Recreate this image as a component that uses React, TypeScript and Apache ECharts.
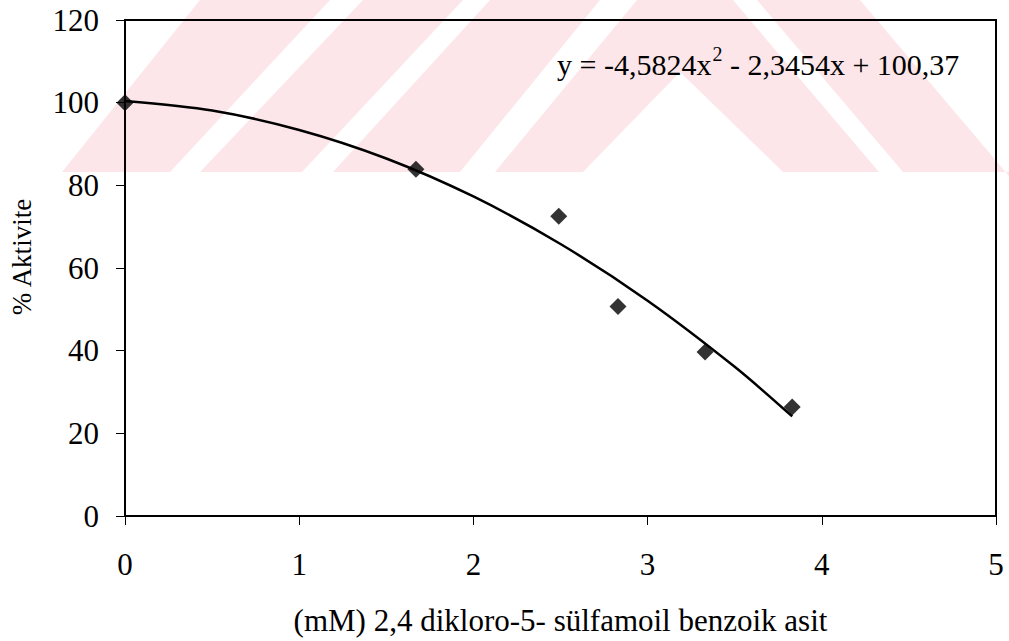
import React, { useEffect, useRef } from "react";
import * as echarts from "echarts";

// Measured data points (mM concentration vs % activity)
const concentrations = [0, 1.67, 2.49, 2.83, 3.33, 3.83];
const activity = [100, 83.9, 72.5, 50.7, 39.7, 26.4];

// Trend line
const fitX = [0, 0.5, 1, 1.5, 2, 2.5, 3, 3.5, 3.83];
const fitY = [100.4, 98.1, 93.4, 86.5, 77.3, 65.8, 52.1, 36.1, 24.1];

const xTickMin = 0;
const xTickMax = 5;
const yTickMin = 0;
const yTickMax = 120;

const xTitle = "(mM) 2,4 dikloro-5- sülfamoil benzoik asit";
const yTitle = "% Aktivite";
const equationMain = "y = -4,5824x";
const equationSup = "2";
const equationRest = " - 2,3454x + 100,37";

const FONT = "'Liberation Serif', 'Times New Roman', serif";
const WM = "#fde6ea";

// Decorative watermark band (page pixels)
const watermarkShapes: number[][][] = [
  [[62, 172], [170, 172], [330, 0], [200, 0]],
  [[200, 172], [302, 172], [463, 0], [363, 0]],
  [[333, 172], [460, 172], [600, 0], [490, 0]],
  [[495, 172], [583, 172], [680, 72], [783, 172], [879, 172], [733, 0], [637, 0]],
  [[757, 0], [860, 0], [1009, 176], [1009, 172], [903, 172]],
];

function measure(text: string, size: number): number {
  const c = document.createElement("canvas").getContext("2d");
  if (!c) return text.length * size * 0.45;
  c.font = `${size}px 'Liberation Serif'`;
  return c.measureText(text).width;
}

export default function App() {
  const ref = useRef<HTMLDivElement>(null);

  useEffect(() => {
    if (!ref.current) return;
    const chart = echarts.init(ref.current, undefined, { renderer: "svg" });

    const graphics: any[] = watermarkShapes.map((pts) => ({
      type: "polygon",
      z: -10,
      silent: true,
      shape: { points: pts },
      style: { fill: WM, stroke: "none" },
    }));

    graphics.push({
      type: "text",
      x: 22,
      y: 257,
      rotation: Math.PI / 2,
      style: {
        text: yTitle,
        fontSize: 27,
        fontFamily: FONT,
        fill: "#000",
        align: "center",
        verticalAlign: "middle",
        textAlign: "center",
        textVerticalAlign: "middle",
      },
    });

    const eqX = 557;
    const eqY = 64;
    const w1 = measure(equationMain, 30);
    const ws = measure(equationSup, 20);
    const textBase = {
      fill: "#000",
      fontFamily: FONT,
      align: "left",
      verticalAlign: "middle",
      textAlign: "left",
      textVerticalAlign: "middle",
    };
    graphics.push({
      type: "text",
      x: eqX,
      y: eqY,
      style: { ...textBase, text: equationMain, fontSize: 30 },
    });
    graphics.push({
      type: "text",
      x: eqX + w1 + 1,
      y: eqY - 10,
      style: { ...textBase, text: equationSup, fontSize: 20 },
    });
    graphics.push({
      type: "text",
      x: eqX + w1 + ws + 1,
      y: eqY,
      style: { ...textBase, text: equationRest, fontSize: 30 },
    });

    chart.setOption({
      animation: false,
      backgroundColor: "#fff",
      grid: {
        left: 125,
        right: 13,
        top: 20,
        bottom: 124,
        show: true,
        borderColor: "#000",
        borderWidth: 2,
        backgroundColor: "transparent",
        containLabel: false,
      },
      graphic: graphics,
      xAxis: {
        type: "value",
        min: xTickMin,
        max: xTickMax,
        interval: 1,
        name: xTitle,
        nameLocation: "middle",
        nameGap: 89,
        nameTextStyle: { fontSize: 31, fontFamily: FONT, color: "#000" },
        axisLine: { show: true, onZero: false, lineStyle: { color: "#000", width: 2 } },
        axisTick: { show: true, inside: false, length: 9, lineStyle: { color: "#000", width: 1 } },
        axisLabel: { fontSize: 31, fontFamily: FONT, color: "#000", margin: 33 },
        splitLine: { show: false },
      },
      yAxis: {
        type: "value",
        min: yTickMin,
        max: yTickMax,
        interval: 20,
        axisLine: { show: true, onZero: false, lineStyle: { color: "#000", width: 2 } },
        axisTick: { show: true, inside: false, length: 9, lineStyle: { color: "#000", width: 1 } },
        axisLabel: { fontSize: 31, fontFamily: FONT, color: "#000", margin: 26 },
        splitLine: { show: false },
      },
      series: [
        {
          type: "line",
          data: fitX.map((x, i) => [x, fitY[i]]),
          smooth: 0.3,
          showSymbol: false,
          symbol: "none",
          lineStyle: { color: "#000", width: 2.5 },
          z: 3,
        },
        {
          type: "scatter",
          data: concentrations.map((x, i) => [x, activity[i]]),
          symbol: "diamond",
          symbolSize: 17,
          itemStyle: { color: "#000" },
          z: 4,
        },
      ],
    });

    return () => chart.dispose();
  }, []);

  return (
    <div
      ref={ref}
      style={{ position: "fixed", left: 0, top: 0, width: 1009, height: 641, background: "#fff" }}
    />
  );
}
